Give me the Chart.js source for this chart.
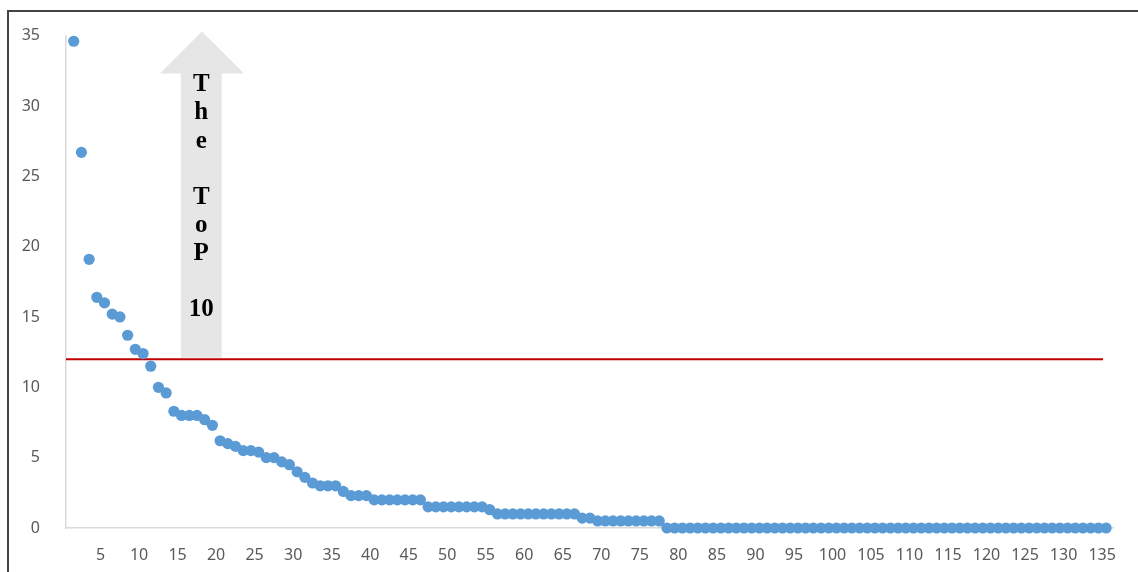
<!DOCTYPE html>
<html>
<head>
<meta charset="utf-8">
<title>Top 10 scatter</title>
<script src="https://cdn.jsdelivr.net/npm/chart.js@4.4.1/dist/chart.umd.min.js"></script>
<style>
    body { margin: 0; background: #fff; }
    .frame {
        position: absolute; left: 7px; top: 10px; width: 1140px; height: 570px;
        border-left: 2px solid #444; border-top: 2px solid #444;
    }
    #chart { position: absolute; left: 0; top: 0; }
</style>
</head>
<body>
<div class="frame"></div>
<canvas id="chart" width="1138" height="572"></canvas>
<script>
// values, ranked from highest to lowest
const values = [
    34.6, 26.7, 19.1, 16.4, 16.0, 15.2, 15.0, 13.7, 12.7, 12.4,
    11.5, 10.0, 9.6, 8.3, 8.0, 8.0, 8.0, 7.7, 7.3, 6.2,
    6.0, 5.8, 5.5, 5.5, 5.4, 5.0, 5.0, 4.7, 4.5, 4.0,
    3.6, 3.2, 3.0, 3.0, 3.0, 2.6, 2.3, 2.3, 2.3, 2.0,
    2.0, 2.0, 2.0, 2.0, 2.0, 2.0, 1.5, 1.5, 1.5, 1.5,
    1.5, 1.5, 1.5, 1.5, 1.3, 1.0, 1.0, 1.0, 1.0, 1.0,
    1.0, 1.0, 1.0, 1.0, 1.0, 1.0, 0.7, 0.7, 0.5, 0.5,
    0.5, 0.5, 0.5, 0.5, 0.5, 0.5, 0.5, 0, 0, 0,
    0, 0, 0, 0, 0, 0, 0, 0, 0, 0,
    0, 0, 0, 0, 0, 0, 0, 0, 0, 0,
    0, 0, 0, 0, 0, 0, 0, 0, 0, 0,
    0, 0, 0, 0, 0, 0, 0, 0, 0, 0,
    0, 0, 0, 0, 0, 0, 0, 0, 0, 0,
    0, 0, 0, 0, 0
];
const ranks = values.map((v, i) => i + 1);

const thresholdValue = 12;
const thresholdEnd = 134.6;
const xTicks = [5, 10, 15, 20, 25, 30, 35, 40, 45, 50, 55, 60, 65, 70, 75, 80, 85, 90, 95, 100, 105, 110, 115, 120, 125, 130, 135];
const yTicks = [0, 5, 10, 15, 20, 25, 30, 35];
const arrowLetters = ['T', 'h', 'e', '', 'T', 'o', 'P', '', '10'];

const labelColor = '#595959';
const axisColor = '#d9d9d9';

// big grey "The ToP 10" arrow, placed in data units
const topArrow = {
    id: 'topArrow',
    beforeDatasetsDraw(chart) {
        const { ctx, scales: { x, y } } = chart;
        const sx0 = x.getPixelForValue(14.9), sx1 = x.getPixelForValue(20.2);
        const hx0 = x.getPixelForValue(12.2), hx1 = x.getPixelForValue(23.1);
        const tip = y.getPixelForValue(35.3), base = y.getPixelForValue(32.3), bottom = y.getPixelForValue(12.1);
        ctx.save();
        ctx.fillStyle = '#e7e6e6';
        ctx.beginPath();
        ctx.moveTo((hx0 + hx1) / 2, tip);
        ctx.lineTo(hx1, base);
        ctx.lineTo(sx1, base);
        ctx.lineTo(sx1, bottom);
        ctx.lineTo(sx0, bottom);
        ctx.lineTo(sx0, base);
        ctx.lineTo(hx0, base);
        ctx.closePath();
        ctx.fill();

        ctx.fillStyle = '#000';
        ctx.font = 'bold 25px "Liberation Serif", "DejaVu Serif", serif';
        ctx.textAlign = 'center';
        ctx.textBaseline = 'middle';
        const cx = (sx0 + sx1) / 2;
        arrowLetters.forEach((t, k) => {
            ctx.fillText(t, cx, y.getPixelForValue(31.5 - k * 2));
        });
        ctx.restore();
    }
};

const ctx = document.getElementById('chart').getContext('2d');
new Chart(ctx, {
    type: 'scatter',
    data: {
        datasets: [{
            label: 'Values',
            data: ranks.map((r, i) => ({ x: r, y: values[i] })),
            backgroundColor: '#5b9bd5',
            borderWidth: 0,
            pointRadius: 5.6,
            clip: false,
            order: 1
        }, {
            type: 'line',
            label: 'Threshold',
            data: [{ x: 0, y: thresholdValue }, { x: thresholdEnd, y: thresholdValue }],
            borderColor: '#c00000',
            borderWidth: 2,
            pointRadius: 0,
            order: 2
        }]
    },
    options: {
        responsive: false,
        animation: false,
        layout: { padding: { top: 33, right: 22, left: 0, bottom: 0 } },
        plugins: {
            legend: { display: false },
            tooltip: { enabled: false }
        },
        scales: {
            x: {
                type: 'linear',
                min: 0,
                max: 136,
                afterBuildTicks(scale) {
                    scale.ticks = xTicks.map(v => ({ value: v }));
                },
                afterFit(scale) { scale.height = 44; },
                grid: { display: false, drawTicks: false },
                border: { color: axisColor, width: 1.5 },
                ticks: {
                    color: labelColor,
                    font: { family: '"Noto Sans", sans-serif', size: 16 },
                    padding: 18,
                    labelOffset: -4,
                    maxRotation: 0,
                    autoSkip: false
                }
            },
            y: {
                min: 0,
                max: 35,
                afterBuildTicks(scale) {
                    scale.ticks = yTicks.map(v => ({ value: v }));
                },
                afterFit(scale) { scale.width = 66; },
                grid: { display: false, drawTicks: false },
                border: { color: axisColor, width: 1.5 },
                ticks: {
                    color: labelColor,
                    font: { family: '"Noto Sans", sans-serif', size: 16 },
                    padding: 26
                }
            }
        }
    },
    plugins: [topArrow]
});
</script>
</body>
</html>
